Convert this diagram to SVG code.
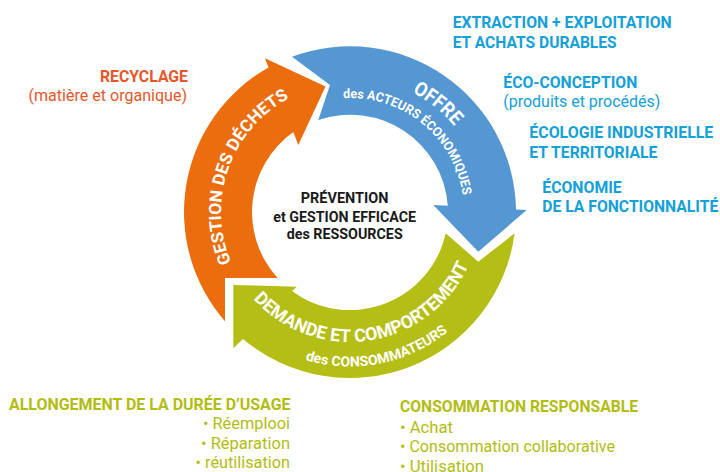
<svg xmlns="http://www.w3.org/2000/svg" width="720" height="472" viewBox="0 0 720 472">
  <defs>
    <style>
      .b { font-family: Roboto, "Liberation Sans", sans-serif; font-weight: 700; }
      .r { font-family: Roboto, "Liberation Sans", sans-serif; font-weight: 400; }
      .blue { fill: #13A0DB; }
      .red { fill: #E8562A; }
      .lime { fill: #B2BD12; }
      .dark { fill: #1A1A1A; }
      .on-arrow { fill: #FFFFFF; }
    </style>
    <!-- baselines for the curved labels (ring centre 350,212) -->
    <path id="arc-dechets" d="M231.3,262.4 A129,129 0 0 1 310.1,89.3"/>
    <path id="arc-offre" d="M412.3,92.3 A135,135 0 0 1 467.5,145.5"/>
    <path id="arc-acteurs" d="M343.2,98.2 A114,114 0 0 1 464,215"/>
    <path id="arc-demande" d="M253.4,299 A130,130 0 0 0 476.1,243.4"/>
    <path id="arc-conso" d="M305.3,359.9 A154.5,154.5 0 0 0 467.5,312.3"/>
  </defs>

  <rect width="720" height="472" fill="#FFFFFF"/>

  <!-- the three cycle arrows -->
  <g id="connectors">
    <g id="arrow-gestion">
      <path fill="#EB6D0E" d="M225,321.2 A166,166 0 0 1 268.5,67.4 L265,58.3 L325.5,86.5 L298.3,145 L293.3,132.1 A98,98 0 0 0 277.6,278 L225,278 Z"/>
      <text class="b on-arrow" font-size="17"><textPath href="#arc-dechets" textLength="191" lengthAdjust="spacingAndGlyphs">GESTION DES DÉCHETS</textPath></text>
    </g>
    <g id="arrow-offre">
      <path fill="#5497D2" d="M292,56.8 A166,166 0 0 1 516,209.4 L526.7,210 L478.3,251.7 L433.3,205 L447.8,205.8 A98,98 0 0 0 318.3,120 L330,85 Z"/>
      <text class="b on-arrow" font-size="20"><textPath href="#arc-offre" textLength="54" lengthAdjust="spacingAndGlyphs">OFFRE</textPath></text>
      <text class="b on-arrow" font-size="13"><textPath href="#arc-acteurs" textLength="169" lengthAdjust="spacingAndGlyphs">des ACTEURS ÉCONOMIQUES</textPath></text>
    </g>
    <g id="arrow-demande">
      <path fill="#B4BE14" d="M514.6,233.3 A166,166 0 0 1 243,338.9 L233.3,348.3 L233.3,285 L296.7,286.7 L292.1,291.1 A98,98 0 0 0 445.7,233.3 L478.3,261.7 Z"/>
      <text class="b on-arrow" font-size="18"><textPath href="#arc-demande" textLength="258" lengthAdjust="spacingAndGlyphs">DEMANDE ET COMPORTEMENT</textPath></text>
      <text class="b on-arrow" font-size="14"><textPath href="#arc-conso" textLength="151" lengthAdjust="spacingAndGlyphs">des CONSOMMATEURS</textPath></text>
    </g>
  </g>

  <!-- centre caption -->
  <g id="centre">
    <text class="b dark" font-size="15" x="300.8" y="203.3" textLength="87.6" lengthAdjust="spacingAndGlyphs">PRÉVENTION</text>
    <text class="b dark" font-size="15" x="273.3" y="221.7" textLength="142.7" lengthAdjust="spacingAndGlyphs">et GESTION EFFICACE</text>
    <text class="b dark" font-size="15" x="286.7" y="239.3" textLength="116" lengthAdjust="spacingAndGlyphs">des RESSOURCES</text>
  </g>

  <!-- supply-side levers -->
  <g id="offre-items">
    <text class="b blue" font-size="17" x="452.7" y="28.3" textLength="219" lengthAdjust="spacingAndGlyphs">EXTRACTION + EXPLOITATION</text>
    <text class="b blue" font-size="17" x="452.7" y="48.3" textLength="164" lengthAdjust="spacingAndGlyphs">ET ACHATS DURABLES</text>
    <text class="b blue" font-size="17" x="503.3" y="88.3" textLength="134" lengthAdjust="spacingAndGlyphs">ÉCO-CONCEPTION</text>
    <text class="r blue" font-size="17" x="503.3" y="107" textLength="157" lengthAdjust="spacingAndGlyphs">(produits et procédés)</text>
    <text class="b blue" font-size="17" x="529.3" y="138.3" textLength="184" lengthAdjust="spacingAndGlyphs">ÉCOLOGIE INDUSTRIELLE</text>
    <text class="b blue" font-size="17" x="529.3" y="158.3" textLength="128" lengthAdjust="spacingAndGlyphs">ET TERRITORIALE</text>
    <text class="b blue" font-size="17" x="542.3" y="193.3" textLength="79.4" lengthAdjust="spacingAndGlyphs">ÉCONOMIE</text>
    <text class="b blue" font-size="17" x="542.3" y="211.7" textLength="176" lengthAdjust="spacingAndGlyphs">DE LA FONCTIONNALITÉ</text>
  </g>

  <!-- waste-management lever -->
  <g id="recyclage">
    <text class="b red" font-size="16" x="100" y="81.7" textLength="88" lengthAdjust="spacingAndGlyphs">RECYCLAGE</text>
    <text class="r red" font-size="16" x="28.5" y="100.5" textLength="158.5" lengthAdjust="spacingAndGlyphs">(matière et organique)</text>
  </g>

  <!-- longer product life -->
  <g id="allongement">
    <text class="b lime" font-size="16" x="9" y="409.5" textLength="281.5" lengthAdjust="spacingAndGlyphs">ALLONGEMENT DE LA DURÉE D’USAGE</text>
    <text class="r lime" font-size="16" x="203" y="429" textLength="87" lengthAdjust="spacingAndGlyphs">• Réemplooi</text>
    <text class="r lime" font-size="16" x="201" y="448.5" textLength="89" lengthAdjust="spacingAndGlyphs">• Réparation</text>
    <text class="r lime" font-size="16" x="195.5" y="467.5" textLength="94.5" lengthAdjust="spacingAndGlyphs">• réutilisation</text>
  </g>

  <!-- responsible consumption -->
  <g id="consommation">
    <text class="b lime" font-size="16" x="400" y="412" textLength="238" lengthAdjust="spacingAndGlyphs">CONSOMMATION RESPONSABLE</text>
    <text class="r lime" font-size="16" x="400" y="432.5" textLength="53" lengthAdjust="spacingAndGlyphs">• Achat</text>
    <text class="r lime" font-size="16" x="400" y="452" textLength="215" lengthAdjust="spacingAndGlyphs">• Consommation collaborative</text>
    <text class="r lime" font-size="16" x="400" y="471.5" textLength="84" lengthAdjust="spacingAndGlyphs">• Utilisation</text>
  </g>
</svg>
